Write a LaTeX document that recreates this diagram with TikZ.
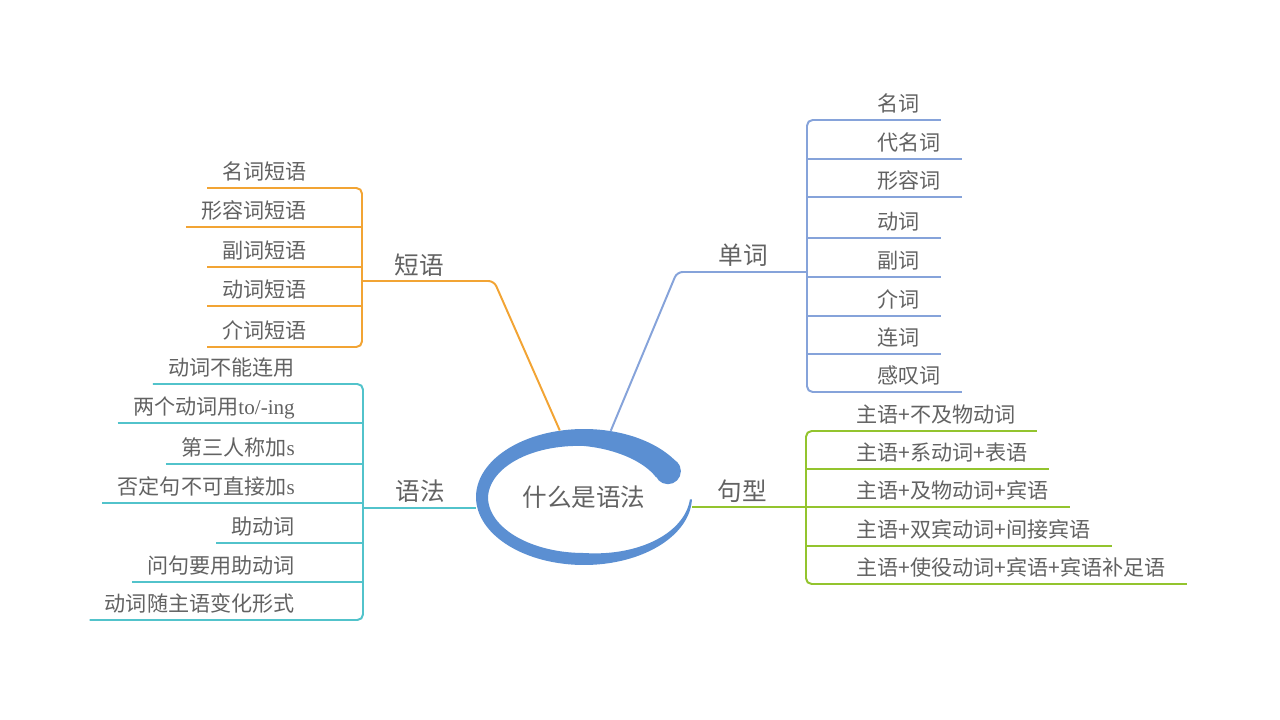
\documentclass[tikz,border=0pt]{standalone}
\usepackage{fontspec}
\setmainfont{Liberation Serif}
\newfontfamily\cjk{Noto Sans CJK SC}
\usetikzlibrary{shapes.geometric}
\definecolor{ringblue}{HTML}{5B8FD2}
\definecolor{wordblue}{HTML}{86A3DA}
\definecolor{phraseorange}{HTML}{F2A434}
\definecolor{grammarcyan}{HTML}{52C3CB}
\definecolor{sentgreen}{HTML}{93C42E}
\definecolor{txtgray}{HTML}{626262}
\tikzstyle{line} = [draw, line width=1.4pt, rounded corners=4pt]
\tikzstyle{leaf} = [inner xsep=0pt, inner ysep=2.5pt, text height=11pt, text depth=3pt, text=txtgray, font=\cjk\fontsize{15}{15}\selectfont]
\tikzstyle{topic} = [inner sep=0pt, text=txtgray, font=\cjk\fontsize{17.5}{17.5}\selectfont]

\begin{document}
\begin{tikzpicture}[x=0.025cm, y=-0.025cm, declare function={ringw(\t)=(\t<90) ? (26-0.15*(\t-30)) : ((\t<180) ? (17-(\t-90)/18) : ((\t<270) ? 12 : (12-(\t-270)/8.8)));}]
	\useasboundingbox (0,0) rectangle (1280,720);

	% central topic with its brush ring
	\node [ellipse, minimum width=5.4cm, minimum height=3.4cm, inner sep=0pt, text=txtgray, font=\cjk\fontsize{17.5}{17.5}\selectfont] (root) at (584,497) {什么是语法};
	\fill [ringblue] plot [domain=28:358, samples=150, smooth] ({584+108*cos(\x)},{497-68*sin(\x)}) -- plot [domain=358:28, samples=150, smooth] ({584+(108-ringw(\x))*cos(\x)},{497-(68-ringw(\x))*sin(\x)}) -- cycle;
	\fill [ringblue] ({584+95*cos(28)},{497-55*sin(28)}) circle (3.25mm);

	% 短语
	\coordinate (pbend) at (494,281);
	\coordinate (jp) at (362,281);
	\node [topic] (phrase) at (419,265) {短语};
	\node [leaf, anchor=south east] (p1) at (307,188) {名词短语};
	\node [leaf, anchor=south east] (p2) at (307,227) {形容词短语};
	\node [leaf, anchor=south east] (p3) at (307,267) {副词短语};
	\node [leaf, anchor=south east] (p4) at (307,306) {动词短语};
	\node [leaf, anchor=south east] (p5) at (307,347) {介词短语};
	\path [line, draw=phraseorange] (root.110) -- (pbend) -- (jp);
	\path [line, draw=phraseorange] ([shift={(-15,0)}]p1.south west) -- (p1.south west -| jp) -- (p5.south west -| jp) -- ([shift={(-15,0)}]p5.south west);
	\path [line, draw=phraseorange] ([shift={(-15,0)}]p2.south west) -- (p2.south west -| jp);
	\path [line, draw=phraseorange] ([shift={(-15,0)}]p3.south west) -- (p3.south west -| jp);
	\path [line, draw=phraseorange] ([shift={(-15,0)}]p4.south west) -- (p4.south west -| jp);

	% 单词
	\coordinate (wbend) at (677,272);
	\coordinate (jw) at (807,272);
	\node [topic] (word) at (743,255) {单词};
	\node [leaf, anchor=south west] (w1) at (877,120) {名词};
	\node [leaf, anchor=south west] (w2) at (877,159) {代名词};
	\node [leaf, anchor=south west] (w3) at (877,197) {形容词};
	\node [leaf, anchor=south west] (w4) at (877,238) {动词};
	\node [leaf, anchor=south west] (w5) at (877,277) {副词};
	\node [leaf, anchor=south west] (w6) at (877,316) {介词};
	\node [leaf, anchor=south west] (w7) at (877,354) {连词};
	\node [leaf, anchor=south west] (w8) at (877,392) {感叹词};
	\path [line, draw=wordblue] (root.68) -- (wbend) -- (jw);
	\path [line, draw=wordblue] ([shift={(21,0)}]w1.south east) -- (w1.south east -| jw) -- (w8.south east -| jw) -- ([shift={(21,0)}]w8.south east);
	\path [line, draw=wordblue] ([shift={(21,0)}]w2.south east) -- (w2.south east -| jw);
	\path [line, draw=wordblue] ([shift={(21,0)}]w3.south east) -- (w3.south east -| jw);
	\path [line, draw=wordblue] ([shift={(21,0)}]w4.south east) -- (w4.south east -| jw);
	\path [line, draw=wordblue] ([shift={(21,0)}]w5.south east) -- (w5.south east -| jw);
	\path [line, draw=wordblue] ([shift={(21,0)}]w6.south east) -- (w6.south east -| jw);
	\path [line, draw=wordblue] ([shift={(21,0)}]w7.south east) -- (w7.south east -| jw);

	% 语法
	\coordinate (jg) at (363,508);
	\node [topic] (grammar) at (420,491) {语法};
	\node [leaf, anchor=south east] (g1) at (295,384) {动词不能连用};
	\node [leaf, anchor=south east] (g2) at (295,423) {两个动词用\rmfamily to/-ing};
	\node [leaf, anchor=south east] (g3) at (295,464) {第三人称加\rmfamily s};
	\node [leaf, anchor=south east] (g4) at (295,503) {否定句不可直接加\rmfamily s};
	\node [leaf, anchor=south east] (g5) at (295,543) {助动词};
	\node [leaf, anchor=south east] (g6) at (295,582) {问句要用助动词};
	\node [leaf, anchor=south east] (g7) at (295,620) {动词随主语变化形式};
	\path [line, draw=grammarcyan] (jg -| root.west) -- (jg);
	\path [line, draw=grammarcyan] ([shift={(-15,0)}]g1.south west) -- (g1.south west -| jg) -- (g7.south west -| jg) -- ([shift={(-15,0)}]g7.south west);
	\path [line, draw=grammarcyan] ([shift={(-15,0)}]g2.south west) -- (g2.south west -| jg);
	\path [line, draw=grammarcyan] ([shift={(-15,0)}]g3.south west) -- (g3.south west -| jg);
	\path [line, draw=grammarcyan] ([shift={(-15,0)}]g4.south west) -- (g4.south west -| jg);
	\path [line, draw=grammarcyan] ([shift={(-15,0)}]g5.south west) -- (g5.south west -| jg);
	\path [line, draw=grammarcyan] ([shift={(-15,0)}]g6.south west) -- (g6.south west -| jg);

	% 句型
	\coordinate (js) at (806,507);
	\node [topic] (sentence) at (742,491) {句型};
	\node [leaf, anchor=south west] (s1) at (856,431) {主语+不及物动词};
	\node [leaf, anchor=south west] (s2) at (856,469) {主语+系动词+表语};
	\node [leaf, anchor=south west] (s3) at (856,507) {主语+及物动词+宾语};
	\node [leaf, anchor=south west] (s4) at (856,546) {主语+双宾动词+间接宾语};
	\node [leaf, anchor=south west] (s5) at (856,584) {主语+使役动词+宾语+宾语补足语};
	\path [line, draw=sentgreen] (js -| root.east) -- (js);
	\path [line, draw=sentgreen] ([shift={(21,0)}]s1.south east) -- (s1.south east -| js) -- (s5.south east -| js) -- ([shift={(21,0)}]s5.south east);
	\path [line, draw=sentgreen] ([shift={(21,0)}]s2.south east) -- (s2.south east -| js);
	\path [line, draw=sentgreen] ([shift={(21,0)}]s3.south east) -- (s3.south east -| js);
	\path [line, draw=sentgreen] ([shift={(21,0)}]s4.south east) -- (s4.south east -| js);
\end{tikzpicture}
\end{document}
